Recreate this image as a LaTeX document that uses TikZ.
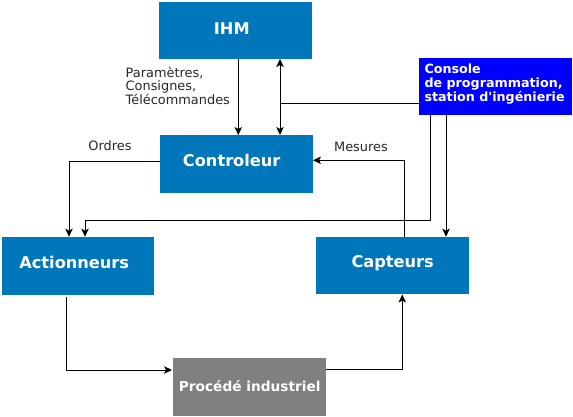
\documentclass[tikz,border=0pt]{standalone}
\usepackage{fontspec}
\newfontfamily\dvs{DejaVu Sans}
\usetikzlibrary{arrows.meta}
\definecolor{boxblue}{HTML}{0077BB}
\definecolor{consoleblue}{HTML}{0000FF}
\definecolor{procgray}{HTML}{808080}
\tikzset{
  box/.style={rectangle, inner sep=0pt, draw=none},
  boxtext/.style={anchor=base, inner sep=0pt, text=white, font=\dvs\fontsize{16.2}{19}\selectfont\bfseries},
  constext/.style={anchor=base west, inner sep=0pt, text=white, font=\dvs\fontsize{12.7}{14}\selectfont\bfseries},
  lbl/.style={anchor=base, inner sep=0pt, text=black!85, font=\dvs\fontsize{12.9}{14}\selectfont},
  conn/.style={line width=0.9pt, -{Stealth[length=8pt,width=7.5pt,inset=2pt]}},
  plain/.style={line width=0.9pt}
}
\begin{document}
\begin{tikzpicture}[x=1pt,y=-1pt]
\useasboundingbox (0,0) rectangle (573,417);
% boxes
\node[box, minimum width=153pt, minimum height=57pt, fill=boxblue] (ihm) at (235.5,30.5) {};
\node[box, minimum width=153pt, minimum height=57.7pt, fill=boxblue] (ctrl) at (236.5,164) {};
\node[box, minimum width=153pt, minimum height=57pt, fill=consoleblue] (cons) at (495.5,86.4) {};
\node[box, minimum width=151.7pt, minimum height=58pt, fill=boxblue] (act) at (77.8,265.7) {};
\node[box, minimum width=153pt, minimum height=57.6pt, fill=boxblue] (capt) at (392.5,265.5) {};
\node[box, minimum width=153.3pt, minimum height=58.3pt, fill=procgray] (proc) at (249.4,386.9) {};
% box texts
\node[boxtext] (tihm) at (231.8,34.3) {IHM};
\node[boxtext] (tctrl) at (231.7,166.7) {Controleur};
\node[boxtext] (tact) at (74.2,268.7) {Actionneurs};
\node[boxtext] (tcapt) at (392.7,267.3) {Capteurs};
\node[boxtext, font=\dvs\fontsize{13.7}{16}\selectfont\bfseries] (tproc) at (249.7,391) {Procédé industriel};
\node[constext] (tc1) at (424.3,73.5) {Console};
\node[constext] (tc2) at (424.3,87.5) {de programmation,};
\node[constext] (tc3) at (424.3,101.2) {station d'ingénierie};
% labels
\node[lbl, anchor=base west] (p1) at (125.5,77.5) {Paramètres,};
\node[lbl, anchor=base west] (p2) at (125.5,91) {Consignes,};
\node[lbl, anchor=base west] (p3) at (125.5,104.5) {Télécommandes};
\node[lbl] (ordres) at (110,150.7) {Ordres};
\node[lbl] (mesures) at (361,151.5) {Mesures};
% coordinates
\coordinate (a1) at (238.3,59);
\coordinate (a2) at (238.3,135);
\coordinate (b1) at (280,59);
\coordinate (b2) at (280,103.3);
\coordinate (b3) at (280,135);
\coordinate (c0) at (160,161.7);
\coordinate (c1) at (69,161.7);
\coordinate (c2) at (69,236.7);
\coordinate (d0) at (430.3,114.7);
\coordinate (d1) at (430.3,220);
\coordinate (d2) at (85,220);
\coordinate (d3) at (85,236.7);
\coordinate (e0) at (446,114.7);
\coordinate (e1) at (446,236.7);
\coordinate (f0) at (404.7,236.7);
\coordinate (f1) at (404.7,160.3);
\coordinate (f2) at (313,160.3);
\coordinate (g0) at (66.3,297);
\coordinate (g1) at (66.3,370);
\coordinate (g2) at (172,370);
\coordinate (h0) at (326,369.3);
\coordinate (h1) at (402.3,369.3);
\coordinate (h2) at (402.3,294.5);
% connectors
\draw[conn] (a1) -- (a2);
\draw[plain] (cons.west |- b2) -- (b2);
\draw[conn] (b2) -- (b1);
\draw[conn] (b2) -- (b3);
\draw[conn] (c0) -- (c1) -- (c2);
\draw[conn] (d0) -- (d1) -- (d2) -- (d3);
\draw[conn] (e0) -- (e1);
\draw[conn] (f0) -- (f1) -- (f2);
\draw[conn] (g0) -- (g1) -- (g2);
\draw[conn] (h0) -- (h1) -- (h2);
\end{tikzpicture}
\end{document}
